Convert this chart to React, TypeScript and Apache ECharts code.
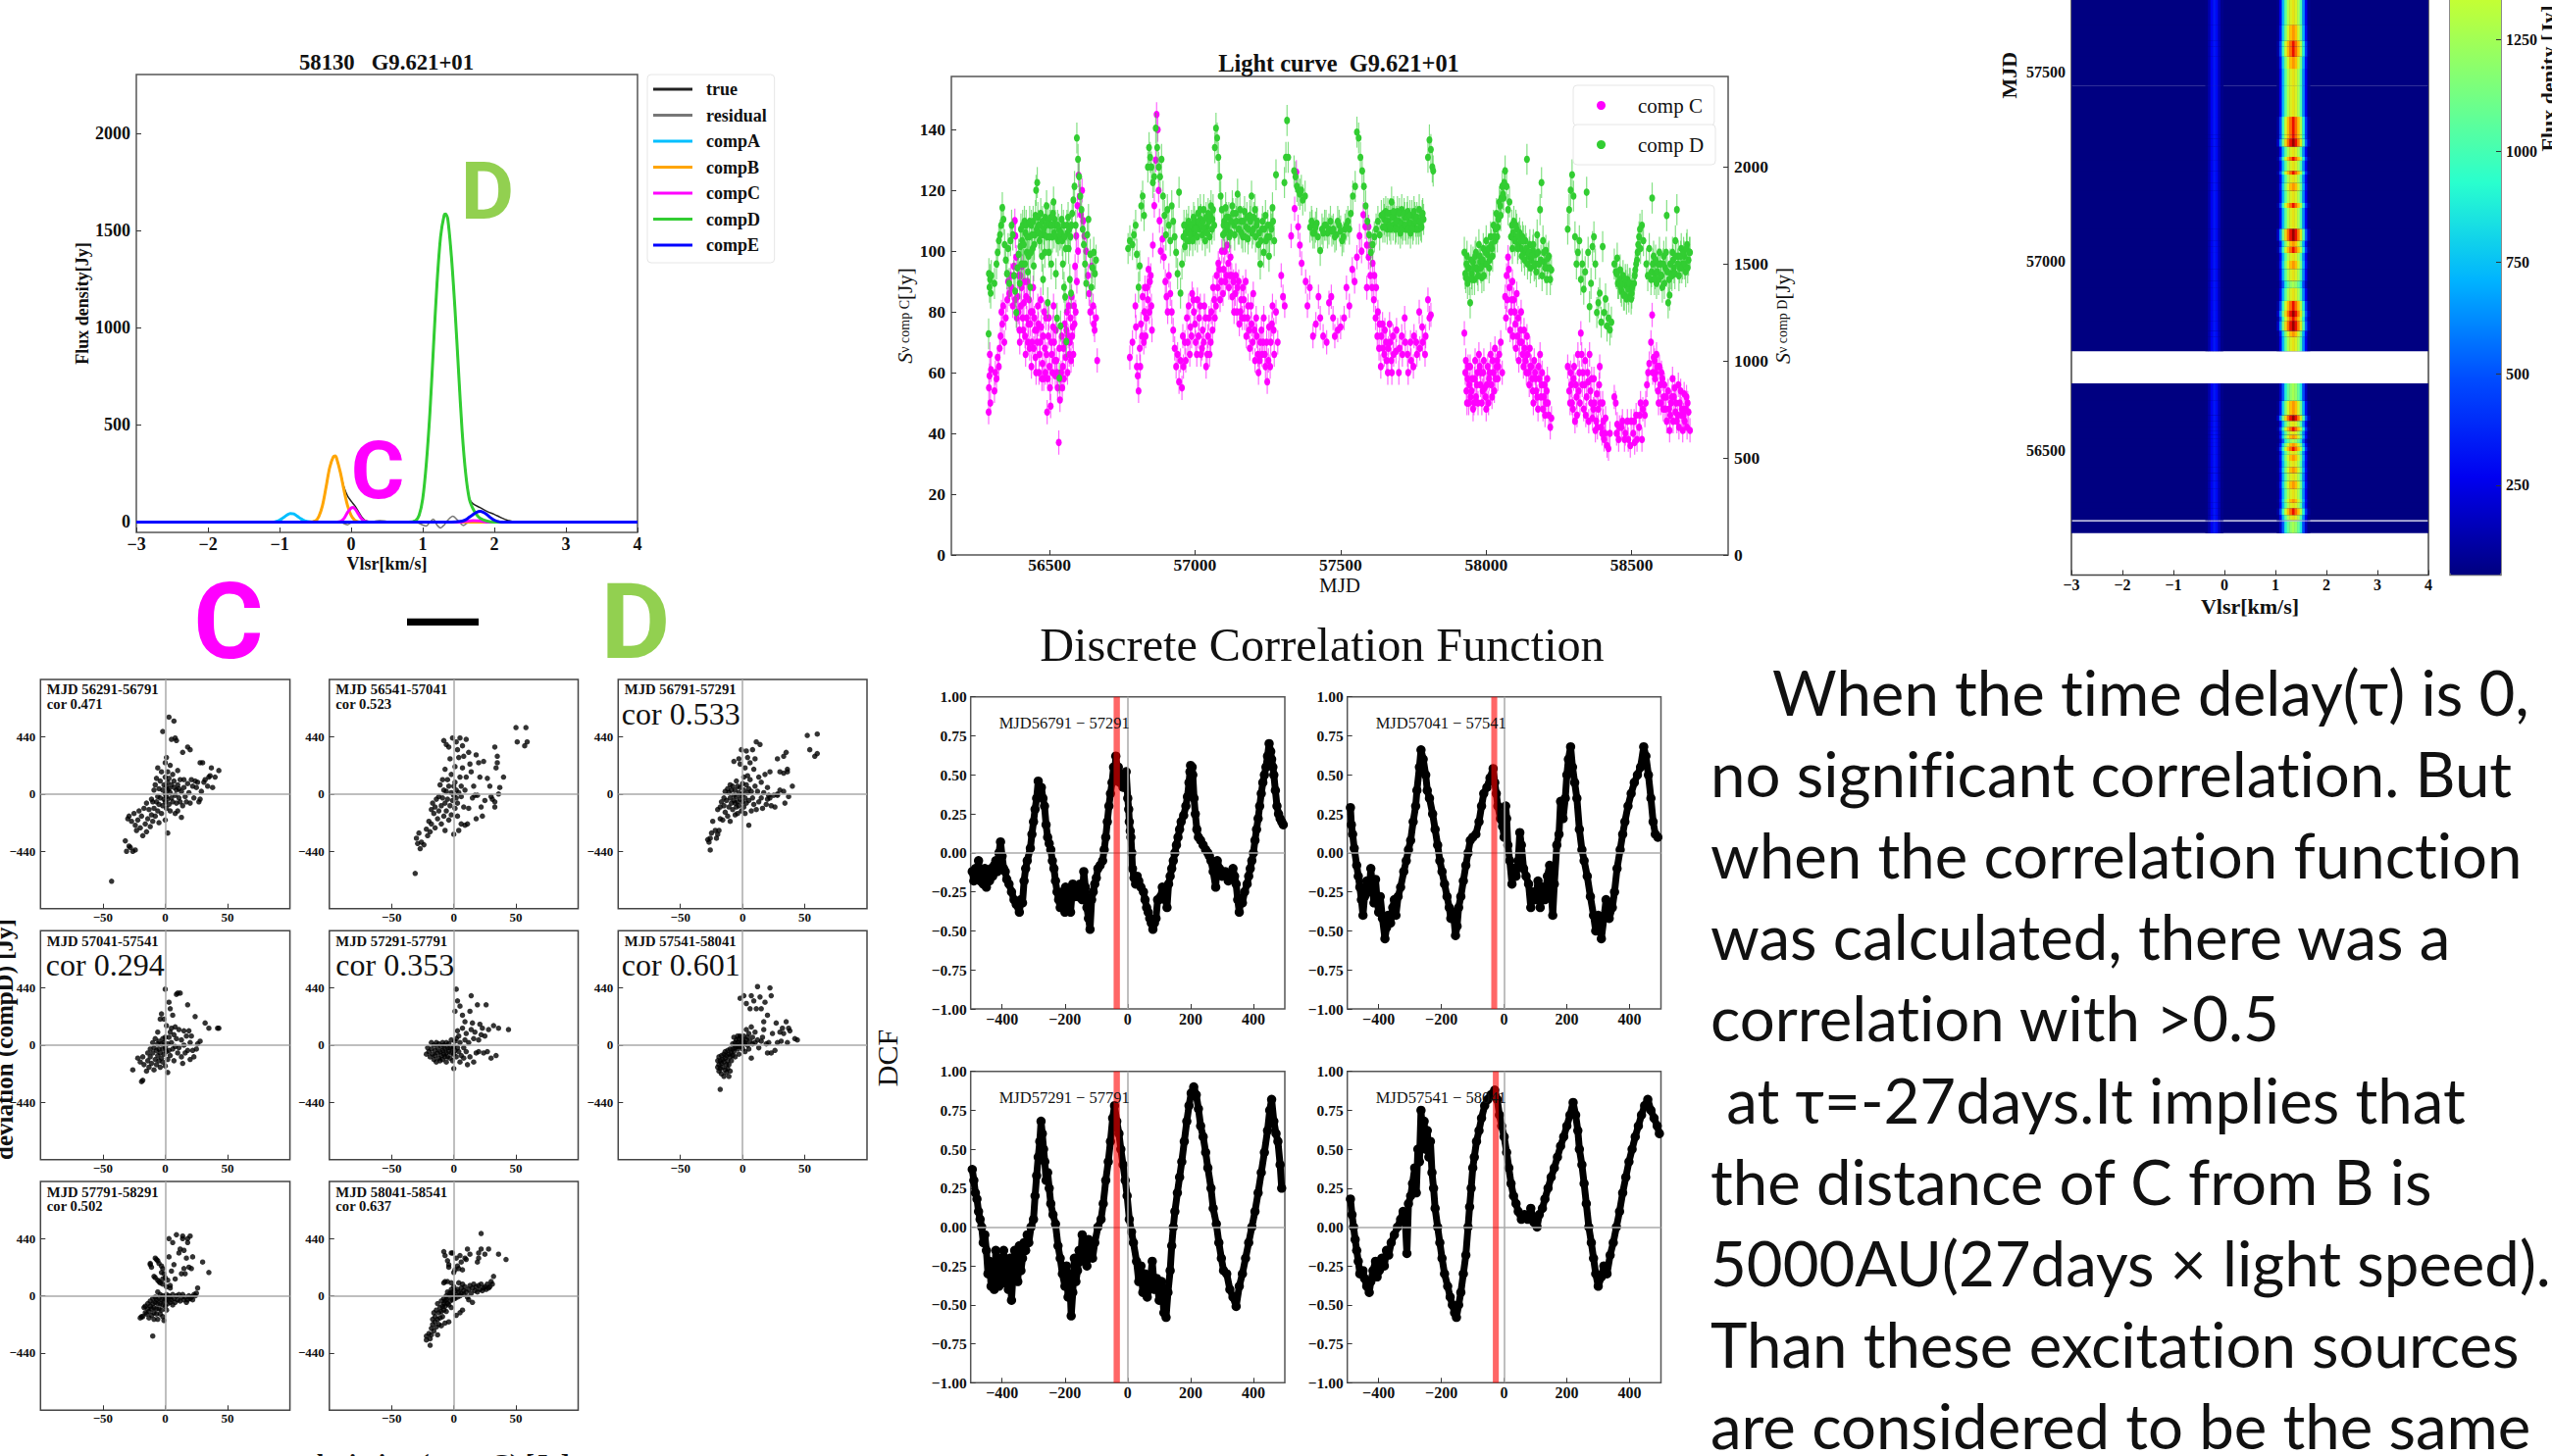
import React, { useEffect, useRef } from "react";
import * as echarts from "echarts";

const SERIF = "'Liberation Serif'";
const pairs = (f: number[]) => { const o: number[][] = []; for (let i = 0; i + 1 < f.length; i += 2) o.push([f[i], f[i + 1]]); return o; };

// ---------- spectrum ----------
const specTrue = [-3,0,-1.1,0,-1,10,-.9,35,-.85,44,-.8,42,-.7,17,-.6,3,-.5,6,-.45,30,-.4,85,-.35,180,-.3,280,-.25,335,-.22,340,-.2,325,-.15,255,-.1,180,-.05,135,0,108,.05,85,.1,55,.15,25,.2,8,.3,3,.4,6,.5,4,.7,0,.8,0,.9,8,.95,35,1,120,1.05,300,1.1,560,1.15,900,1.2,1230,1.25,1470,1.3,1580,1.32,1585,1.35,1560,1.4,1370,1.45,1100,1.5,780,1.55,470,1.6,250,1.65,125,1.7,95,1.8,75,1.9,55,2,40,2.1,22,2.2,8,2.3,0,4,0];
const specResidual = [-3,0,-.3,0,-.2,4,-.1,-8,-.05,-14,0,-4,.1,0,.9,0,1,-15,1.05,-20,1.1,0,1.15,15,1.2,-15,1.25,-30,1.3,-15,1.35,10,1.42,30,1.5,5,1.57,-18,1.62,-5,1.7,0,4,0];
const specA = [-3,0,-1.1,0,-1.05,3,-1,10,-.95,22,-.9,35,-.85,44,-.8,42,-.75,30,-.7,17,-.65,7,-.6,2,-.55,0,4,0];
const specB = [-3,0,-.6,0,-.5,6,-.45,30,-.4,85,-.35,180,-.3,280,-.25,335,-.22,340,-.2,325,-.15,255,-.1,165,-.05,85,0,35,.05,10,.1,2,.15,0,4,0];
const specC = [-3,0,-.2,0,-.15,3,-.1,18,-.05,50,0,73,.03,76,.07,60,.1,42,.15,15,.2,3,.25,0,1.5,0,1.6,5,1.7,8,1.8,6,1.9,0,4,0];
const specD = [-3,0,.8,0,.9,8,.95,35,1,120,1.05,300,1.1,560,1.15,900,1.2,1230,1.25,1470,1.3,1580,1.32,1585,1.35,1560,1.4,1370,1.45,1100,1.5,780,1.55,470,1.6,250,1.65,120,1.7,70,1.75,40,1.8,20,1.9,5,2,0,4,0];
const specE = [-3,0,1.4,0,1.55,5,1.6,12,1.65,25,1.7,38,1.75,50,1.8,55,1.85,50,1.9,38,1.95,22,2,10,2.05,3,2.1,0,4,0];
const specNames = ["true", "residual", "compA", "compB", "compC", "compD", "compE"];
const specColors = ["#222222", "#777777", "#00BFFF", "#FFA500", "#FF00FF", "#32CD32", "#0000FF"];

// ---------- light curve ----------
const curveC = [56291,47,56292,55,56294,59,56295,66,56297,50,56299,61,56311,54,56314,60,56318,58,56322,65,56326,62,56329,68,56332,72,56335,80,56338,76,56341,82,56345,70,56350,78,56355,84,56358,90,56362,86,56367,92,56370,88,56374,82,56378,95,56381,110,56383,105,56386,98,56390,85,56393,80,56397,74,56400,92,56404,88,56408,78,56412,83,56416,72,56420,85,56424,90,56428,76,56432,68,56436,80,56440,70,56444,88,56448,78,56452,65,56456,74,56460,82,56464,60,56468,70,56472,75,56476,63,56480,58,56484,68,56488,78,56492,47,56496,72,56500,62,56504,49,56508,66,56512,75,56516,70,56520,59,56524,64,56528,55,56532,37,56536,51,56540,60,56544,55,56548,68,56552,76,56556,65,56560,80,56564,72,56568,66,56572,78,56576,85,56580,75,56584,82,56588,95,56592,105,56596,115,56600,125,56604,118,56608,112,56612,120,56616,110,56620,105,56626,100,56632,92,56636,86,56640,80,56645,95,56650,82,56652,76,56655,74,56660,78,56664,64,
56776,65,56785,70,56795,82,56797,75,56800,62,56803,59,56806,54,56810,68,56814,76,56820,85,56826,80,56830,72,56835,88,56840,94,56845,90,56850,82,56855,102,56860,115,56865,130,56868,145,56872,140,56875,120,56878,110,56882,100,56888,104,56893,98,56898,90,56902,85,56906,80,56910,92,56915,86,56920,80,56925,74,56930,68,56935,62,56940,66,56945,57,56950,64,56955,55,56960,62,56965,70,56972,78,56978,82,56984,75,56990,86,56996,80,57002,70,57008,84,57014,78,57020,66,57026,74,57032,82,57038,62,57044,72,57050,66,57056,80,57062,88,57068,78,57074,92,57080,96,57086,84,57092,100,57098,94,57104,90,57110,102,57116,88,57122,98,57128,85,57134,80,57140,92,57146,88,57152,76,57158,84,57164,88,57170,78,57176,72,57182,82,57188,68,57194,76,57200,86,57206,64,57212,72,57218,60,57224,70,57230,66,57236,78,57242,62,57248,57,57254,75,57260,70,57266,82,57272,66,57278,80,57284,70,57296,92,57302,85,57308,82,57330,105,57342,114,57348,126,57354,108,57360,102,57366,96,57380,90,57386,82,57394,88,57405,72,57415,76,57424,85,57430,78,57440,72,57452,70,57460,83,57468,85,57474,78,57480,72,57490,74,57500,75,57512,78,57520,88,57530,82,57540,94,57548,90,57556,98,57565,105,57572,100,57578,112,57585,108,57590,102,57596,98,57602,92,57608,88,57614,84,57620,78,57626,72,57632,68,57638,62,57644,76,57650,66,57656,70,57662,60,57668,76,57674,64,57680,72,57690,67,57700,60,57710,72,57720,78,57730,66,57740,70,57750,62,57760,70,57770,80,57780,75,57790,66,57800,84,57805,78,57810,79,
57925,73,57928,60,57932,54,57936,58,57940,50,57945,62,57950,54,57955,48,57960,58,57965,52,57970,60,57975,66,57980,56,57985,50,57990,60,57995,55,58000,48,58005,62,58010,58,58015,66,58020,52,58025,60,58030,68,58035,62,58040,58,58045,66,58050,70,58055,60,58065,85,58070,92,58075,98,58080,88,58085,80,58090,90,58095,84,58100,76,58105,86,58110,78,58115,70,58120,80,58125,66,58130,74,58135,64,58140,72,58145,60,58150,68,58155,62,58160,54,58165,64,58170,58,58175,52,58180,62,58185,66,58190,56,58195,48,58200,56,58205,50,58210,58,58215,46,58220,42,58224,45,58280,62,58285,54,58290,60,58295,50,58300,58,58305,44,58310,52,58315,66,58320,60,58325,73,58330,56,58335,48,58340,64,58345,52,58350,57,58355,66,58360,50,58365,45,58370,58,58375,41,58380,53,58385,48,58390,62,58395,42,58400,50,58405,38,58410,45,58415,36,58420,35,58425,40,58440,52,58445,50,58450,43,58455,38,58465,42,58475,38,58485,44,58495,36,58505,40,58510,37,58515,46,58525,42,58530,50,58535,38,58545,46,58552,56,58560,63,58566,70,58570,79,58575,65,58580,58,58585,66,58590,54,58595,62,58600,50,58605,58,58610,52,58615,48,58620,44,58625,54,58630,41,58635,50,58640,58,58645,52,58650,47,58655,44,58660,56,58665,50,58670,46,58675,41,58680,53,58685,48,58690,42,58695,47,58700,41];
const curveCExtra = [56382,84,56388,78,56394,92,56398,70,56402,82,56406,95,56410,74,56414,90,56418,66,56422,78,56426,70,56430,84,56434,76,56438,62,56442,80,56446,68,56450,74,56454,60,56458,70,56462,76,56466,66,56470,84,56474,58,56478,72,56482,80,56486,60,56490,66,56494,58,56498,78,56502,55,56506,70,56510,60,56514,82,56518,64,56522,74,56526,60,56534,68,56538,58,56542,72,56546,62,56550,58,56554,70,56558,74,56562,60,56566,82,56570,70,56574,64,56578,72,56582,66,56586,76,56590,80,56594,90,56598,100,
56812,62,56818,72,56824,70,56828,88,56833,78,56838,84,56843,80,56848,92,56852,74,
56958,72,56968,64,56975,70,56982,66,56988,72,56994,84,57000,76,57006,66,57012,72,57018,82,57024,68,57030,70,57036,78,57042,66,57048,78,57054,70,57060,74,57066,84,57072,82,57078,88,57084,94,57090,90,57096,86,57102,100,57108,92,57114,96,57120,92,57126,92,57132,90,57138,86,57144,80,57150,90,57156,80,57162,78,57168,84,57174,90,57180,78,57186,74,57192,82,57198,70,57204,74,57210,78,57216,66,57222,64,57228,74,57234,70,57240,66,57246,70,57252,64,57258,62,57264,76,57270,74,
57590,88,57596,108,57604,102,57610,96,57616,92,57622,88,57628,80,57634,76,57640,72,57646,68,57652,74,57658,64,57664,68,57670,70,57676,60,57682,66,57692,74,57702,68,57712,66,57722,70,57732,60,57742,64,57752,72,57762,66,57772,68,57782,70,57792,72,
57930,64,57934,50,57938,62,57942,56,57946,52,57952,58,57958,50,57962,64,57968,56,57972,50,57978,62,57982,60,57988,54,57992,64,57998,52,58002,56,58008,50,58012,60,58018,56,58022,64,58028,54,58032,58,58038,64,58042,62,
58068,78,58072,84,58078,94,58082,74,58088,84,58092,72,58098,80,58102,68,58108,72,58112,64,58118,74,58122,70,58128,62,58132,68,58138,60,58142,66,58148,56,58152,62,58158,58,58162,50,58168,60,58172,54,58178,48,58182,58,58188,52,58192,60,58198,52,58202,46,58208,54,58212,50,
58288,50,58292,56,58298,48,58302,62,58308,56,58312,46,58318,54,58322,50,58328,66,58332,60,58338,56,58342,46,58348,60,58352,44,58358,54,58362,58,58368,48,58372,50,58378,44,58382,42,58388,56,58392,50,58398,40,58402,44,58408,40,
58448,40,58458,42,58468,44,58478,40,58488,38,58498,44,58508,44,58518,38,58528,46,58538,48,58548,50,58556,60,58572,60,58578,64,58582,60,58588,62,58592,50,58598,56,58602,60,58608,48,58612,56,58618,52,58628,48,58632,46,58638,52,58642,44,58648,55,58652,50,58658,46,58662,42,58668,54,58672,48,58678,46,58682,44,58688,52,58692,50];
const curveD = [56291,1140,56292,1450,56294,1380,56296,1420,56298,1350,56300,1440,56311,1400,56318,1500,56322,1560,56326,1620,56330,1650,56334,1700,56338,1790,56342,1730,56346,1600,56350,1520,56354,1450,56358,1580,56362,1400,56366,1620,56370,1700,56374,1650,56378,1440,56382,1360,56386,1250,56390,1480,56394,1550,56398,1400,56402,1680,56406,1620,56410,1500,56414,1720,56418,1660,56422,1560,56426,1460,56430,1640,56434,1380,56438,1700,56442,1580,56446,1490,56450,1650,56454,1880,56458,1920,56462,1700,56466,1620,56470,1760,56474,1540,56478,1420,56482,1650,56486,1740,56490,1800,56494,1300,56498,1560,56502,1700,56506,1500,56510,1640,56514,1820,56518,1730,56522,1450,56526,1220,56530,1620,56534,911,56538,1180,56542,1730,56546,1500,56550,1380,56554,1330,56558,1100,56562,1660,56566,1580,56570,1420,56574,1350,56578,1760,56582,1830,56586,1900,56590,1700,56594,2150,56598,2040,56602,1950,56606,1850,56610,1780,56614,1680,56618,1600,56622,1500,56626,1400,56630,1650,56634,1730,56640,1550,56644,1380,56648,1480,56652,1560,56656,1450,56660,1520,
56770,1580,56776,1620,56785,1600,56790,1650,56796,1700,56800,1550,56806,1380,56810,1490,56815,1800,56820,1850,56825,1750,56838,2000,56842,2100,56846,2050,56850,2000,56855,1920,56860,1950,56865,2200,56870,2100,56875,2000,56880,1950,56885,2040,56890,1850,56895,1750,56900,1650,56905,1780,56910,1700,56915,1620,56920,1800,56925,1720,56930,1640,56935,1560,56940,1450,56945,1870,56950,1350,56955,1500,56960,1640,56965,1590,56970,1700,56975,1680,56980,1620,56990,1680,56995,1740,57000,1650,57005,1700,57010,1760,57015,1680,57020,1730,57025,1650,57030,1780,57035,1620,57040,1690,57045,1760,57050,1640,57055,1800,57060,1730,57068,2100,57072,2200,57076,2150,57080,2050,57084,1950,57088,1850,57092,1780,57096,1650,57100,1720,57105,1790,57110,1680,57116,1740,57122,1660,57128,1800,57134,1700,57140,1760,57146,1860,57152,1680,57158,1720,57164,1640,57170,1770,57176,1690,57182,1630,57188,1750,57194,1850,57200,1680,57206,1780,57212,1700,57218,1600,57224,1500,57230,1680,57236,1560,57242,1750,57248,1640,57254,1540,57260,1700,57266,1790,57272,1620,57278,1960,57307,1920,57312,2050,57316,2240,57320,2050,57340,1980,57345,1950,57350,1900,57355,1880,57360,1860,57365,1880,57370,1830,57378,1850,57395,1690,57402,1700,57410,1660,57418,1710,57430,1570,57436,1680,57445,1700,57455,1660,57465,1720,57475,1680,57485,1650,57495,1700,57505,1620,57515,1680,57525,1720,57535,1760,57542,1850,57550,1900,57556,2180,57562,2150,57568,2050,57574,1980,57580,1900,57586,1800,57592,1720,57598,1650,57604,1560,57610,1600,57616,1640,57622,1680,57628,1720,57634,1650,57640,1750,57645,1690,57650,1730,57655,1770,57660,1680,57665,1720,57670,1760,57675,1820,57680,1700,57685,1740,57690,1690,57695,1770,57700,1720,57705,1660,57710,1780,57715,1700,57720,1740,57725,1680,57730,1770,57735,1710,57740,1660,57745,1750,57750,1700,57755,1740,57760,1680,57765,1720,57770,1780,57775,1700,57780,1750,57785,1730,57800,2050,57805,2140,57810,2090,57815,2000,57818,1980,
57925,1560,57928,1450,57932,1500,57936,1400,57940,1480,57945,1300,57950,1450,57955,1510,57960,1420,57965,1560,57970,1470,57975,1600,57980,1510,57985,1430,57990,1580,57995,1500,58000,1620,58005,1550,58010,1480,58015,1640,58020,1580,58025,1700,58030,1620,58035,1760,58040,1690,58045,1820,58050,1750,58055,1900,58060,1840,58065,1980,58070,1900,58075,1780,58080,1820,58085,1640,58090,1580,58095,1720,58100,1640,58105,1680,58110,1600,58115,1660,58120,1580,58125,1640,58130,1560,58135,1620,58140,2040,58145,1540,58150,1600,58155,1520,58160,1570,58165,1490,58170,1550,58175,1650,58180,1500,58185,1780,58190,1920,58195,1620,58200,1510,58205,1570,58210,1480,58215,1540,58220,1420,58224,1470,58280,1680,58285,1780,58290,1880,58295,1960,58300,1850,58305,1640,58310,1500,58315,1560,58320,1620,58325,1420,58330,1500,58335,1370,58340,1460,58345,1870,58350,1560,58355,1280,58360,1400,58365,1590,58370,1640,58375,1500,58380,1250,58385,1300,58390,1350,58395,1200,58400,1590,58405,1250,58410,1320,58415,1180,58420,1220,58425,1160,58430,1200,58440,1500,58445,1460,58450,1530,58455,1400,58460,1470,58465,1360,58470,1440,58475,1340,58480,1390,58485,1420,58490,1330,58495,1400,58500,1350,58510,1440,58515,1500,58520,1560,58525,1640,58530,1580,58535,1700,58540,1620,58550,1500,58555,1440,58560,1580,58566,1420,58570,1840,58575,1540,58580,1450,58585,1400,58590,1500,58595,1560,58600,1440,58605,1380,58610,1540,58615,1480,58620,1750,58625,1300,58630,1340,58635,1450,58640,1560,58645,1480,58650,1620,58655,1780,58660,1540,58665,1480,58670,1580,58675,1500,58680,1540,58685,1460,58690,1600,58695,1520,58700,1560];
const curveDExtra = [56400,1590,56404,1500,56408,1700,56412,1600,56416,1500,56420,1700,56424,1640,56428,1540,56432,1720,56436,1560,56440,1650,56444,1720,56448,1600,56452,1750,56456,1680,56460,1740,56464,1660,56468,1700,56472,1650,56476,1720,56480,1680,56484,1560,56488,1700,56492,1640,56496,1720,56500,1640,56504,1740,56508,1700,56512,1760,56516,1660,56520,1700,56524,1640,56528,1700,56532,1680,56536,1650,56540,1660,56544,1620,56548,1700,56552,1640,56556,1580,56560,1700,56564,1740,56568,1680,56572,1640,56576,1700,
56962,1700,56968,1660,56972,1620,56978,1720,56984,1650,56988,1700,56992,1620,56998,1720,57002,1680,57008,1640,57012,1720,57018,1780,57022,1700,57028,1720,57032,1680,57038,1740,57042,1660,57048,1720,57052,1750,57058,1680,57062,1780,57066,1700,
57098,1700,57102,1660,57108,1740,57112,1700,57118,1640,57124,1720,57130,1760,57136,1650,57142,1720,57148,1680,57154,1780,57160,1660,57166,1720,57172,1640,57178,1740,57184,1680,57190,1720,57196,1660,57202,1740,57208,1640,57214,1720,57220,1660,57226,1620,57232,1720,57238,1680,57244,1620,57250,1700,57256,1640,57262,1680,57268,1720,
57400,1720,57405,1660,57414,1690,57422,1640,57440,1660,57450,1700,57460,1680,57470,1670,57480,1640,57490,1720,57500,1670,57510,1640,57520,1700,57530,1680,
57648,1760,57652,1690,57658,1720,57662,1760,57668,1700,57672,1680,57678,1740,57682,1770,57688,1680,57692,1720,57698,1680,57702,1760,57708,1710,57712,1680,57718,1760,57722,1700,57728,1740,57732,1680,57738,1750,57742,1710,57748,1680,57752,1770,57758,1720,57762,1740,57768,1680,57772,1720,57778,1690,57782,1760,
57930,1430,57934,1540,57938,1480,57942,1420,57948,1520,57952,1420,57958,1480,57962,1540,57968,1480,57972,1440,57978,1540,57982,1480,57988,1520,57992,1440,57998,1560,58002,1500,58008,1580,58012,1520,58018,1600,58022,1540,58028,1640,58032,1680,58038,1640,58042,1730,58048,1800,58052,1840,58058,1860,58062,1920,
58088,1700,58092,1660,58098,1620,58102,1700,58108,1580,58112,1640,58118,1620,58122,1540,58128,1620,58132,1520,58138,1580,58142,1500,58148,1560,58152,1480,58158,1540,58162,1600,58168,1500,58172,1460,58178,1560,58182,1500,58188,1520,58192,1440,58198,1560,58202,1480,58208,1420,58212,1530,58218,1480,
58448,1450,58452,1400,58458,1420,58462,1380,58468,1400,58472,1340,58478,1420,58482,1320,58488,1370,58492,1400,58498,1320,58502,1380,58508,1400,58512,1470,58518,1520,58522,1600,58528,1680,
58568,1460,58572,1500,58578,1420,58582,1520,58588,1460,58592,1420,58598,1500,58602,1440,58608,1500,58612,1400,58618,1560,58622,1460,58628,1420,58632,1500,58638,1440,58642,1520,58648,1450,58652,1540,58658,1500,58662,1440,58668,1540,58672,1480,58678,1560,58682,1500,58688,1580,58692,1480,58698,1560];

// ---------- dynamic spectrum ----------
const heatMainV = [1.05,1.1,1.15,1.2,1.25,1.3,1.35,1.4,1.45,1.5,1.55,1.6,1.65];
const heatSideV = [-.35,-.3,-.25,-.2,-.15,-.1,-.05];
const heatSide = [60,130,270,340,290,150,70];
const heatLevels = [
  [60,180,520,880,1080,1200,1260,1200,1080,860,480,170,60],
  [70,260,720,1050,1280,1420,1480,1420,1280,1020,620,260,80],
  [80,320,800,1150,1400,1600,1700,1600,1400,1120,700,300,90],
  [110,480,980,1350,1620,1800,2000,1800,1600,1300,880,420,120],
  [180,640,1150,1500,1800,2000,2200,2000,1760,1450,1020,520,170],
];
const heatRows = [[56284,56313,0],[56318,56332,1],[56332,56350,3],[56350,56364,1],[56364,56374,2],[56374,56401,1],[56401,56422,2],[56422,56443,1],[56443,56459,2],[56459,56475,1],[56475,56491,2],[56491,56501,1],[56501,56512,3],[56512,56522,2],[56522,56533,0],[56533,56544,2],[56544,56554,1],[56554,56565,3],[56565,56581,1],[56581,56596,4],[56596,56634,2],[56634,56678,0],
[56765,56803,1],[56803,56819,2],[56819,56845,4],[56845,56856,3],[56856,56872,4],[56872,56898,3],[56898,56932,1],[56932,56951,0],[56951,56983,1],[56983,57004,2],[57004,57025,1],[57025,57041,3],[57041,57057,2],[57057,57089,4],[57089,57144,1],[57144,57157,3],[57157,57189,1],[57189,57210,2],[57210,57232,1],[57232,57242,3],[57242,57269,1],[57269,57279,3],[57279,57306,1],[57306,57327,4],[57327,57337,3],[57337,57385,3],[57385,57464,1],[57466,57512,1],[57512,57544,2],[57544,57570,3],[57570,57586,3],[57586,57628,2],[57628,57960,1]];
const heatBackground = 50;

// ---------- deviation scatter ----------
const scatterTitles = ["MJD 56291-56791","MJD 56541-57041","MJD 56791-57291","MJD 57041-57541","MJD 57291-57791","MJD 57541-58041","MJD 57791-58291","MJD 58041-58541"];
const scatterCors = ["cor 0.471","cor 0.523","cor 0.533","cor 0.294","cor 0.353","cor 0.601","cor 0.502","cor 0.637"];
const scatter1 = [-43,-670,-32,-360,-31,-440,-29,-400,-26,-440,-24,-430,-28,-410,-30,-190,-29,-170,-27,-210,-25,-150,-24,-240,-23,-280,-22,-200,-21,-130,-20,-260,-19,-170,-18,-320,-17,-110,-16,-230,-15,-70,-15,-290,-14,-190,-13,-120,-12,-250,-11,-40,-11,-160,-10,-60,-10,-210,-9,30,-9,-110,-8,-170,-8,70,-7,-60,-7,120,-6,-20,-6,-130,-6,200,-5,40,-5,-80,-5,-220,-4,100,-4,-30,-3,-150,-3,170,-2,30,-2,-90,-2,480,-1,70,-1,-40,0,240,0,130,0,0,0,-60,0,-200,1,280,1,60,1,-20,1,-110,2,170,2,90,2,30,2,-40,2,-300,3,590,3,120,3,40,3,-80,4,220,4,10,4,-130,5,420,5,70,5,-30,6,150,6,-60,7,560,7,50,7,100,8,430,8,-10,8,-150,9,410,9,30,9,-70,10,180,10,70,10,-130,11,-30,11,40,12,-60,12,110,13,20,13,-180,14,320,14,-90,15,50,15,110,16,-20,17,-60,18,360,18,80,19,10,20,340,20,-70,21,110,22,60,23,-30,24,100,25,50,26,90,27,-60,28,-40,28,240,29,20,30,240,31,90,32,110,34,60,35,130,36,140,37,200,38,50,40,130,43,180];
const scatter2 = [-31,-610,-30,-340,-29,-380,-28,-300,-27,-420,-26,-370,-24,-390,-22,-270,-21,-320,-20,-210,-19,-290,-18,-120,-18,-230,-17,-70,-16,-150,-15,-260,-15,-100,-14,-40,-13,-190,-12,-20,-12,-130,-11,70,-10,-90,-10,-230,-9,110,-9,-30,-8,-170,-8,30,-8,410,-7,-70,-7,190,-7,-280,-6,380,-6,20,-6,-130,-5,110,-5,-40,-4,360,-4,-200,-4,60,-3,-90,-3,270,-2,150,-2,10,-2,-160,-1,-50,-1,430,0,60,0,-310,0,-10,1,90,1,210,1,-110,2,400,2,-30,2,30,3,340,3,-70,3,-170,4,280,4,10,4,-280,5,130,5,430,6,60,6,-20,6,-230,7,200,7,370,8,-100,8,290,9,-240,9,30,10,420,10,130,11,-230,12,320,12,-110,13,230,14,170,15,-30,16,60,17,-10,18,300,18,-190,19,-10,20,240,21,130,22,-100,23,-170,24,250,25,-50,27,120,29,60,30,-20,31,-40,33,360,33,-60,33,-100,34,200,35,290,35,240,36,0,37,50,40,130,51,400,50,510,57,370,58,510,59,400];
const scatter3 = [-26,-430,-28,-350,-27,-370,-26,-340,-25,-300,-24,-210,-22,-280,-21,-340,-20,-310,-20,-120,-19,-280,-18,-100,-18,-190,-17,-60,-16,-200,-15,-30,-15,-90,-14,-140,-14,20,-13,-50,-12,-170,-12,40,-11,-100,-11,10,-10,70,-10,-30,-10,-210,-9,-70,-9,30,-8,-120,-8,60,-7,-10,-7,-50,-7,250,-6,30,-6,-160,-6,-70,-5,100,-5,-20,-5,-100,-4,60,-4,-60,-4,-150,-3,10,-3,270,-3,-90,-2,-40,-2,230,-2,50,-1,-10,-1,340,-1,-130,0,80,0,-60,0,0,1,-100,1,130,1,30,2,-30,2,-150,2,200,3,330,3,70,3,-70,4,10,4,140,4,280,5,-50,5,-240,5,40,6,240,6,110,7,-130,7,20,8,340,8,-30,9,190,9,-80,10,60,10,270,11,-120,11,400,12,20,13,130,13,-60,14,380,15,-30,15,90,16,-110,17,10,18,150,19,-80,20,-40,20,50,21,-10,22,170,22,-30,23,-90,25,-10,26,-100,28,-10,28,0,28,270,30,170,33,290,33,160,35,320,36,190,37,-20,34,-70,40,60,52,450,60,460,54,340,58,290,60,310,30,30,33,20,36,170];
const scatter4 = [-26,-190,-18,-270,-19,-280,-22,-100,-20,-130,-18,-90,-17,-150,-15,-200,-14,-60,-14,-120,-13,-170,-12,-30,-12,-90,-11,-140,-10,20,-10,-60,-9,-190,-9,-20,-8,-110,-8,50,-7,-40,-7,-150,-6,-80,-6,10,-6,100,-5,-30,-5,-120,-5,30,-4,-60,-4,200,-4,-170,-3,10,-3,-100,-3,240,-2,-30,-2,-130,-2,50,-1,20,-1,-70,-1,200,0,-20,0,-160,0,60,0,430,1,-50,1,150,2,10,2,-110,2,-210,3,330,3,60,3,-40,4,280,4,100,4,-80,5,130,5,20,6,-30,6,230,7,80,7,-120,8,-10,8,140,9,390,9,50,10,-60,10,400,11,120,11,-20,12,400,13,40,13,-90,14,-140,15,110,15,0,16,-60,17,70,18,310,18,-40,19,110,20,-110,20,20,21,70,22,-40,23,-90,24,220,25,-30,26,10,28,30,32,170,35,130,42,130,43,130];
const scatter5 = [-22,-70,-21,-20,-20,-50,-19,-90,-18,-30,-18,20,-17,-70,-16,-110,-16,0,-15,-40,-15,-80,-14,-130,-14,20,-13,-60,-13,-20,-12,-100,-12,10,-11,-50,-11,-120,-10,-10,-10,-80,-9,20,-9,-40,-9,-110,-8,-70,-8,0,-7,-30,-7,-90,-6,20,-6,-60,-6,-130,-5,-20,-5,-90,-4,10,-4,-50,-3,-100,-3,-20,-2,40,-2,-60,-1,-30,-1,-120,0,-10,0,-180,0,-70,1,-40,1,30,1,260,2,-90,2,50,2,430,3,-20,3,110,3,340,4,-50,4,70,5,300,5,-130,5,20,6,-80,7,230,7,130,8,-20,8,-100,9,180,9,40,10,90,10,-50,11,-150,12,20,13,260,13,-90,14,120,14,380,15,170,16,-130,16,50,17,100,18,-60,19,310,20,40,20,-50,21,160,22,80,23,130,24,-60,25,70,26,310,27,-50,28,120,30,-100,32,150,34,-80,36,130,44,120];
const scatter6 = [-20,-120,-20,-170,-19,-90,-19,-150,-19,-200,-18,-120,-18,-180,-18,-340,-17,-80,-17,-140,-17,-220,-16,-110,-16,-170,-15,-70,-15,-130,-15,-240,-14,-100,-14,-190,-14,-50,-13,-150,-13,-210,-13,-80,-12,-40,-12,-120,-12,-180,-11,-70,-11,-240,-11,-150,-10,-90,-10,-30,-10,-200,-9,-60,-9,-120,-8,10,-8,-30,-8,-80,-7,-50,-7,60,-6,-20,-6,-90,-6,20,-5,40,-5,-10,-4,70,-4,-30,-4,20,-3,50,-3,-70,-3,-10,-2,10,-2,70,-2,360,-1,30,-1,-10,-1,60,0,40,0,-30,1,380,1,10,1,70,2,20,2,-50,3,40,3,120,3,320,4,0,4,60,5,90,5,-30,6,30,6,280,7,380,7,-100,7,140,8,10,8,60,9,340,10,20,10,100,11,280,12,40,12,450,13,-20,14,370,15,280,15,30,16,60,17,180,17,120,18,330,19,10,20,-60,20,230,21,20,22,440,23,380,23,-60,24,90,26,-40,27,170,28,20,30,100,31,30,32,130,33,90,35,180,36,20,37,130,38,110,42,50,44,40];
const scatter7 = [-19,-160,-20,-170,-18,-160,-17,-90,-16,-130,-16,-80,-15,-140,-14,-100,-14,-60,-13,-170,-13,-120,-12,-80,-12,-40,-11,-150,-11,-100,-10,-310,-10,-60,-10,-20,-9,-130,-9,-90,-9,-180,-8,-50,-8,-10,-7,-100,-7,-140,-7,-30,-6,30,-6,-180,-6,-60,-5,-100,-5,-20,-4,-140,-4,10,-4,-60,-3,-110,-3,-30,-2,0,-2,-160,-2,-70,-1,-40,-1,-190,0,-10,0,-80,1,-30,1,10,1,-110,2,-60,2,-20,3,0,4,-50,4,-10,5,-30,6,10,6,-70,7,-20,8,-50,9,0,10,-30,11,10,12,-40,13,-10,14,10,15,-30,16,-10,17,-50,18,-30,19,0,20,-20,21,-10,22,-30,23,10,24,0,25,20,26,60,-12,240,-12,250,-11,220,-8,290,-7,280,-6,270,-5,250,-3,230,-2,210,-9,150,-8,140,-6,120,-5,110,-4,100,-3,180,-2,130,-2,90,-1,170,0,140,1,70,2,120,3,440,3,300,4,80,4,60,5,190,6,410,7,240,8,130,9,470,11,330,12,360,13,170,14,460,14,440,15,350,15,210,16,170,17,290,18,410,18,440,19,220,20,460,21,210,22,300,30,260,35,180];
const scatter8 = [-22,-340,-22,-310,-20,-290,-19,-380,-19,-330,-18,-250,-18,-300,-17,-180,-17,-220,-16,-270,-16,-130,-15,-200,-15,-160,-14,-240,-14,-110,-13,-180,-13,-300,-13,-60,-12,-130,-12,-220,-11,-90,-11,-170,-10,-40,-10,-120,-10,-230,-9,-80,-9,-160,-8,-20,-8,-60,-8,-110,-7,-40,-7,-80,-7,-210,-6,0,-6,-30,-6,-120,-5,-60,-5,30,-4,-10,-4,-70,-4,-200,-3,20,-3,-40,-2,10,-2,-90,-2,50,-1,-30,-1,30,0,0,0,-20,0,70,1,40,1,-20,2,10,2,-150,3,50,3,-10,4,30,4,100,5,0,5,-130,6,60,6,20,7,90,7,-110,8,40,8,10,9,70,10,30,11,-10,12,50,12,-30,13,80,14,20,15,60,15,-50,16,90,17,40,18,70,19,30,20,80,21,50,22,90,23,40,24,60,25,70,26,50,27,90,28,60,29,70,30,110,31,90,32,150,-8,100,-7,110,-5,110,-2,100,-8,340,-7,310,-5,270,-4,240,-4,220,-2,330,-1,330,0,180,1,200,2,290,3,230,4,210,5,310,6,260,7,200,9,290,10,280,11,360,13,320,19,260,20,330,20,290,22,360,22,480,25,320,28,360,36,320,42,280];
const scatterData = [scatter1, scatter2, scatter3, scatter4, scatter5, scatter6, scatter7, scatter8];

// ---------- discrete correlation function ----------
const dcfTitles = ["MJD56791 − 57291", "MJD57041 − 57541", "MJD57291 − 57791", "MJD57541 − 58041"];
const dcfBands = [[-45, -25], [-41, -22], [-45, -25], [-36, -17]];
const dcf1 = [-495,-.12,-490,-.18,-485,-.1,-480,-.15,-475,-.05,-470,-.18,-465,-.12,-460,-.2,-455,-.1,-450,-.22,-445,-.15,-440,-.18,-435,-.1,-430,-.15,-425,-.08,-420,-.05,-415,-.12,-410,0,-405,.07,-400,-.02,-395,-.1,-390,-.12,-385,-.17,-378,-.2,-370,-.25,-362,-.3,-355,-.33,-345,-.38,-340,-.3,-335,-.32,-330,-.18,-325,-.1,-320,-.05,-310,.03,-305,.12,-300,.2,-295,.28,-290,.35,-285,.46,-280,.4,-275,.42,-270,.35,-265,.3,-260,.18,-255,.1,-250,.06,-245,.02,-240,-.05,-235,-.1,-230,-.18,-225,-.25,-220,-.3,-215,-.35,-208,-.25,-200,-.38,-198,-.22,-190,-.25,-182,-.38,-175,-.2,-168,-.28,-160,-.28,-152,-.2,-145,-.3,-140,-.12,-135,-.22,-130,-.35,-125,-.42,-120,-.49,-115,-.3,-110,-.25,-105,-.2,-100,-.16,-95,-.1,-88,-.08,-80,-.05,-75,.02,-70,.1,-65,.2,-60,.3,-55,.38,-50,.45,-45,.55,-42,.48,-38,.62,-34,.55,-30,.55,-25,.45,-20,.5,-15,.42,-10,.42,-5,.52,0,.35,3,.28,5,.2,8,.14,10,.1,13,0,15,-.1,20,-.16,25,-.2,30,-.15,35,-.18,42,-.22,50,-.25,55,-.3,60,-.35,65,-.38,70,-.42,75,-.45,80,-.49,85,-.45,90,-.42,95,-.3,100,-.3,105,-.28,110,-.22,115,-.25,120,-.3,125,-.35,130,-.2,135,-.15,140,-.1,145,-.05,150,0,155,.05,160,.1,165,.15,170,.2,178,.24,185,.3,190,.36,195,.45,198,.52,200,.56,205,.55,207,.5,211,.35,215,.25,220,.15,225,.1,232,.08,240,.05,248,.02,255,0,260,-.02,265,-.05,272,-.12,280,-.22,285,-.05,292,-.1,300,-.15,310,-.12,320,-.18,328,-.14,335,-.1,340,-.15,345,-.2,350,-.3,355,-.38,360,-.3,365,-.32,372,-.25,380,-.2,385,-.15,390,-.1,395,-.05,400,0,405,.08,410,.15,415,.22,420,.3,425,.38,430,.45,435,.5,440,.55,445,.62,450,.7,455,.65,458,.6,462,.55,465,.5,470,.4,475,.3,480,.25,485,.22,490,.2,495,.18];
const dcf2 = [-490,.29,-487,.18,-483,.12,-478,.03,-470,-.08,-465,-.15,-460,-.22,-455,-.3,-450,-.4,-445,-.28,-438,-.18,-430,-.25,-425,-.1,-420,-.22,-415,-.32,-410,-.17,-405,-.3,-400,-.38,-395,-.28,-388,-.42,-380,-.55,-375,-.48,-370,-.4,-362,-.45,-355,-.35,-350,-.3,-345,-.4,-338,-.28,-330,-.22,-320,-.12,-312,-.05,-305,.02,-298,.08,-290,.2,-282,.3,-278,.4,-270,.55,-265,.66,-258,.6,-250,.5,-245,.4,-238,.35,-228,.25,-220,.15,-212,.05,-205,-.05,-198,-.12,-190,-.2,-182,-.28,-175,-.35,-170,-.42,-162,-.38,-155,-.53,-150,-.47,-145,-.35,-138,-.28,-130,-.18,-122,-.08,-115,0,-108,.08,-100,.1,-90,.12,-80,.2,-72,.3,-65,.38,-55,.42,-45,.48,-35,.54,-30,.45,-25,.38,-20,.3,-12,.22,-5,.17,0,.1,5,.3,8,.22,12,.05,18,-.05,25,-.2,30,-.1,38,-.15,45,-.05,50,.13,55,.05,62,-.1,70,-.15,78,-.2,85,-.35,92,-.25,100,-.3,108,-.18,115,-.35,122,-.22,130,-.3,138,-.15,145,-.08,155,-.4,160,-.2,168,.05,175,.12,180,.33,188,.22,195,.35,200,.5,205,.6,212,.68,218,.55,225,.45,232,.35,240,.15,248,.02,255,-.05,265,-.15,275,-.28,285,-.4,292,-.5,300,-.4,310,-.55,318,-.42,325,-.3,335,-.42,345,-.35,352,-.25,360,-.1,370,.02,378,.12,385,.2,395,.3,405,.38,415,.45,425,.5,435,.55,445,.68,452,.62,460,.5,468,.35,475,.2,482,.12,490,.1];
const dcf3 = [-495,.37,-490,.3,-485,.22,-480,.18,-475,.1,-470,.05,-465,0,-460,-.1,-455,-.05,-450,-.15,-445,-.3,-440,-.22,-435,-.38,-430,-.25,-425,-.4,-420,-.15,-415,-.3,-410,-.38,-405,-.2,-400,-.32,-395,-.15,-390,-.36,-385,-.25,-380,-.4,-375,-.2,-370,-.47,-365,-.3,-360,-.15,-355,-.25,-350,-.35,-345,-.12,-340,-.28,-335,-.2,-330,-.1,-325,-.15,-320,-.05,-315,-.1,-308,0,-300,.05,-295,.2,-290,.33,-285,.45,-280,.55,-276,.68,-272,.6,-268,.5,-264,.42,-260,.3,-255,.35,-250,.25,-245,.15,-238,.08,-230,.02,-222,-.12,-215,-.2,-208,-.3,-200,-.38,-195,-.25,-190,-.45,-185,-.3,-180,-.57,-175,-.42,-170,-.2,-165,-.35,-160,-.28,-155,-.15,-150,-.22,-145,-.05,-140,-.2,-135,-.1,-130,-.25,-125,-.08,-118,-.15,-112,-.2,-105,-.1,-95,0,-85,.05,-78,.15,-70,.3,-62,.42,-55,.55,-48,.7,-42,.78,-35,.68,-28,.6,-22,.5,-15,.4,-8,.3,-2,.2,5,.05,12,-.03,18,-.1,28,-.22,35,-.35,42,-.25,48,-.42,55,-.3,62,-.45,70,-.38,78,-.22,85,-.4,92,-.33,100,-.47,108,-.35,115,-.55,122,-.58,128,-.42,135,-.28,140,-.12,145,0,150,.1,158,.22,165,.32,172,.42,180,.55,188,.68,195,.78,202,.86,210,.9,218,.85,225,.76,232,.65,240,.58,248,.48,255,.38,265,.25,272,.12,282,.02,290,-.1,298,-.2,305,-.28,315,-.3,325,-.4,335,-.45,345,-.51,355,-.38,365,-.3,375,-.2,385,-.1,395,0,405,.1,415,.22,425,.35,435,.48,445,.62,452,.75,458,.82,465,.68,472,.6,478,.55,485,.4,490,.25];
const dcf4 = [-490,.18,-485,.08,-480,0,-475,-.08,-470,-.15,-465,-.22,-460,-.3,-450,-.28,-445,-.33,-438,-.38,-430,-.42,-425,-.35,-418,-.28,-410,-.22,-405,-.32,-398,-.28,-390,-.2,-382,-.25,-375,-.15,-368,-.18,-360,-.1,-350,-.05,-340,0,-330,.05,-322,.1,-315,.03,-310,-.17,-305,.15,-298,.2,-292,.28,-285,.38,-280,.22,-275,.5,-270,.42,-265,.75,-260,.6,-255,.68,-250,.5,-245,.62,-240,.45,-235,.55,-230,.35,-225,.25,-220,.12,-212,0,-205,-.1,-198,-.2,-190,-.3,-180,-.38,-172,-.45,-165,-.5,-158,-.55,-152,-.58,-145,-.5,-138,-.42,-130,-.3,-122,-.18,-115,0,-110,.13,-105,.25,-100,.38,-95,.45,-88,.55,-80,.62,-72,.7,-62,.78,-52,.82,-42,.85,-30,.88,-22,.82,-15,.72,-8,.65,0,.58,8,.48,15,.38,22,.28,30,.2,38,.15,45,.1,55,.05,65,.08,75,.05,85,.12,95,.03,105,0,112,.08,122,.12,130,.18,140,.25,150,.32,160,.38,170,.45,180,.52,190,.58,200,.65,210,.72,220,.8,228,.72,235,.62,240,.5,248,.4,255,.28,262,.15,270,0,278,-.1,285,-.2,292,-.3,300,-.38,310,-.32,318,-.25,328,-.3,338,-.18,348,-.1,358,0,368,.1,378,.22,388,.32,398,.42,408,.5,418,.58,428,.65,438,.72,448,.78,458,.82,468,.75,478,.7,488,.65,495,.6];
const dcfData = [dcf1, dcf2, dcf3, dcf4];

// ---------- commentary ----------
const bodyLines = ["When the time delay(τ) is 0,","no significant correlation. But","when the correlation function","was calculated, there was a","correlation with >0.5"," at τ=-27days.It implies that","the distance of C from B is","5000AU(27days × light speed).","Than these excitation sources","are considered to be the same"];

const minus = (v: number) => String(v).replace("-", "−");
function valueAxis(gridIndex: number, min: number, max: number, ticks: number[], fontSize: number, extra: any = {}) {
  const { axisLabel, axisTick, ...rest } = extra;
  return {
    type: "value", gridIndex, min, max, splitLine: { show: false }, axisLine: { show: false, onZero: false },
    axisTick: { show: true, inside: true, length: 5, lineStyle: { color: "#333" }, customValues: ticks, ...(axisTick || {}) },
    axisLabel: { customValues: ticks, fontFamily: SERIF, fontWeight: "bold", fontSize, color: "#111", margin: 6, formatter: minus, ...(axisLabel || {}) },
    nameTextStyle: { fontFamily: SERIF, fontWeight: "bold", color: "#111" },
    nameLocation: "middle",
    ...rest,
  };
}
const frame = (left: number, top: number, right: number, bottom: number, color = "#555") => ({
  left, top, width: right - left, height: bottom - top, show: true, borderColor: color, borderWidth: 1.5, backgroundColor: "transparent", outerBoundsMode: "none", containLabel: false,
});
const label = (text: string, x: number, y: number, fontSize: number, o: any = {}) => {
  const { rotation, scaleX, weight, family, fill, align, style, italic } = o;
  return { type: "text", x, y, rotation: rotation || 0, scaleX: scaleX || 1, z: 50, silent: true,
    style: { x: 0, y: 0, text, fontSize, fontFamily: family || SERIF, fontWeight: weight || "normal", fontStyle: italic ? "italic" : "normal", fill: fill || "#111", textAlign: align || "center", textVerticalAlign: "middle", ...(style || {}) } };
};

function buildOption() {
  const grid: any[] = [], xAxis: any[] = [], yAxis: any[] = [], series: any[] = [], graphic: any[] = [];

  // spectrum (grid 0)
  grid.push(frame(139, 76, 650, 543));
  xAxis.push(valueAxis(0, -3, 4, [-3,-2,-1,0,1,2,3,4], 18, { axisLabel: { margin: 3 }, name: "Vlsr[km/s]", nameGap: 23, nameTextStyle: { fontFamily: SERIF, fontWeight: "bold", fontSize: 18, color: "#111" } }));
  yAxis.push(valueAxis(0, -53, 2303, [0,500,1000,1500,2000], 18, { name: "Flux density[Jy]", nameGap: 46, nameRotate: 90, nameTextStyle: { fontFamily: SERIF, fontWeight: "bold", fontSize: 18, color: "#111" } }));
  [specTrue, specResidual, specA, specB, specC, specD, specE].forEach((d, i) => {
    series.push({ type: "line", name: specNames[i], xAxisIndex: 0, yAxisIndex: 0, data: pairs(d), smooth: 0.3, showSymbol: false, symbol: "none",
      lineStyle: { color: specColors[i], width: i < 2 ? 1.5 : 3 }, itemStyle: { color: specColors[i] } });
  });

  // light curve (grid 1, axes 1 + right axis)
  grid.push(frame(970, 78, 1762, 566));
  xAxis.push(valueAxis(1, 56163, 58831, [56500,57000,57500,58000,58500], 17.5, { name: "MJD", nameGap: 20, nameTextStyle: { fontFamily: SERIF, fontSize: 21, color: "#111" }, axisLabel: { margin: 1, formatter: (v: number) => String(v) } }));
  const yLeft = yAxis.length;
  yAxis.push(valueAxis(1, 0, 157.5, [0,20,40,60,80,100,120,140], 17.5, {
    name: "{i|S}{s|ν comp C}[Jy]", nameGap: 36, nameRotate: 90,
    nameTextStyle: { fontFamily: SERIF, fontSize: 21, color: "#111", rich: { i: { fontFamily: SERIF, fontStyle: "italic", fontSize: 22, color: "#111" }, s: { fontFamily: SERIF, fontSize: 14, color: "#111" } } } }));
  const yRight = yAxis.length;
  yAxis.push(valueAxis(1, 0, 2467, [0,500,1000,1500,2000], 17.5, {
    position: "right", name: "{i|S}{s|ν comp D}[Jy]", nameGap: 44, nameRotate: 90,
    nameTextStyle: { fontFamily: SERIF, fontSize: 21, color: "#111", rich: { i: { fontFamily: SERIF, fontStyle: "italic", fontSize: 22, color: "#111" }, s: { fontFamily: SERIF, fontSize: 14, color: "#111" } } } }));
  const errorSeries = (name: string, d: number[], yi: number, color: string, err: number) => ({
    type: "custom", name, xAxisIndex: 1, yAxisIndex: yi, data: pairs(d), itemStyle: { color }, encode: { x: 0, y: 1 }, clip: true,
    renderItem: (_: any, api: any) => {
      const x = api.value(0), y = api.value(1);
      const a = api.coord([x, y - err]), b = api.coord([x, y + err]), c = api.coord([x, y]);
      return { type: "group", children: [
        { type: "line", shape: { x1: a[0], y1: a[1], x2: b[0], y2: b[1] }, style: { stroke: color, lineWidth: 1.2, opacity: 0.6 } },
        { type: "ellipse", shape: { cx: c[0], cy: c[1], rx: 3, ry: 3.8 }, style: { fill: color } },
      ] };
    },
  });
  series.push(errorSeries("comp C", curveC.concat(curveCExtra), yLeft, "#FF00FF", 4));
  series.push(errorSeries("comp D", curveD.concat(curveDExtra), yRight, "#32CD32", 80));

  // dynamic spectrum
  const gh = grid.length;
  grid.push(frame(2112, -100, 2476, 586.5, "#444"));
  xAxis.push(valueAxis(gh, -3, 4, [-3,-2,-1,0,1,2,3,4], 16, { axisLabel: { margin: 2 }, name: "Vlsr[km/s]", nameGap: 21, nameTextStyle: { fontFamily: SERIF, fontWeight: "bold", fontSize: 22, color: "#111" } }));
  const yh = yAxis.length;
  yAxis.push(valueAxis(gh, 56171, 57951, [56500,57000,57500], 16, { axisLabel: { formatter: (v: number) => String(v) } }));
  const cells: number[][] = [];
  heatRows.forEach(([lo, hi, lvl]) => {
    cells.push([-3, 4, lo, hi, heatBackground]);
    heatSideV.forEach((v, i) => cells.push([v - 0.025, v + 0.025, lo, hi, heatSide[i]]));
    heatMainV.forEach((v, i) => cells.push([v - 0.025, v + 0.025, lo, hi, heatLevels[lvl][i]]));
  });
  const heatIndex = series.length;
  series.push({ type: "custom", name: "Flux density", xAxisIndex: gh, yAxisIndex: yh, data: cells, dimensions: ["v0","v1","lo","hi","flux"], encode: { x: [0,1], y: [2,3] }, clip: true,
    renderItem: (_: any, api: any) => {
      const a = api.coord([api.value(0), api.value(3)]), b = api.coord([api.value(1), api.value(2)]);
      return { type: "rect", shape: { x: a[0], y: a[1], width: b[0] - a[0] + 0.4, height: b[1] - a[1] + 0.8 }, style: { fill: api.visual("color") } };
    } });

  // colour bar axis
  const gc = grid.length;
  grid.push(frame(2498, -413.5, 2550, 586.5, "#666"));
  xAxis.push({ type: "value", gridIndex: gc, min: 0, max: 1, show: false });
  yAxis.push(valueAxis(gc, 48, 2250, [250,500,750,1000,1250], 16, { position: "right", axisLabel: { margin: 5 }, z: 20 }));

  // deviation scatter panels
  const colX = [[41.3,295.6],[335.8,589.5],[630.3,884]];
  const rowY = [[692.9,926.7],[949.2,1182.7],[1205,1438.3]];
  scatterData.forEach((d, i) => {
    const col = i % 3, row = Math.floor(i / 3);
    grid.push(frame(colX[col][0], rowY[row][0], colX[col][1], rowY[row][1], "#444"));
    const g = grid.length - 1;
    xAxis.push(valueAxis(g, -100, 100, [-50,0,50], 13, { axisLabel: { margin: 2 } }));
    yAxis.push(valueAxis(g, -880, 880, [-440,0,440], 13, { axisLabel: { margin: 5 } }));
    series.push({ type: "scatter", name: scatterTitles[i], xAxisIndex: xAxis.length - 1, yAxisIndex: yAxis.length - 1, data: pairs(d), symbolSize: 5.5, itemStyle: { color: "#000" },
      markLine: { silent: true, symbol: "none", label: { show: false }, lineStyle: { color: "#aaa", width: 1.5, type: "solid" }, data: [{ xAxis: 0 }, { yAxis: 0 }] } });
    graphic.push(label(scatterTitles[i], colX[col][0] + 6.5, rowY[row][0] + 10.5, 14.7, { weight: "bold", align: "left" }));
    if (i >= 2 && i <= 5) graphic.push(label(scatterCors[i], colX[col][0] + (col === 0 ? 5.5 : col === 1 ? 6.5 : 3.5), rowY[row][0] + 35, 32, { align: "left" }));
    else graphic.push(label(scatterCors[i], colX[col][0] + 6.5, rowY[row][0] + 25, 14.7, { weight: "bold", align: "left" }));
  });

  // DCF panels
  const dcfX = [[989.7,1310],[1373.7,1693.5]];
  const dcfY = [[710.7,1029],[1092.7,1410.3]];
  dcfData.forEach((d, i) => {
    const col = i % 2, row = Math.floor(i / 2);
    grid.push(frame(dcfX[col][0], dcfY[row][0], dcfX[col][1], dcfY[row][1]));
    const g = grid.length - 1;
    xAxis.push(valueAxis(g, -500, 500, [-400,-200,0,200,400], 16, { axisLabel: { margin: 2 } }));
    yAxis.push(valueAxis(g, -1, 1, [-1,-.75,-.5,-.25,0,.25,.5,.75,1], 15.5, { axisLabel: { margin: 4, formatter: (v: number) => (v < 0 ? "−" : "") + Math.abs(v).toFixed(2) } }));
    series.push({ type: "line", name: dcfTitles[i], xAxisIndex: xAxis.length - 1, yAxisIndex: yAxis.length - 1, data: pairs(d), symbol: "circle", symbolSize: 9.5, showSymbol: true, showAllSymbol: true, itemStyle: { color: "#000" }, lineStyle: { color: "#000", width: 7 },
      markLine: { silent: true, symbol: "none", label: { show: false }, lineStyle: { color: "#aaa", width: 1.5, type: "solid" }, data: [{ xAxis: 0 }, { yAxis: 0 }] },
      markArea: { silent: true, z: 10, itemStyle: { color: "rgba(255,0,0,0.6)" }, label: { show: false }, data: [[{ xAxis: dcfBands[i][0] }, { xAxis: dcfBands[i][1] }]] } });
    graphic.push(label(dcfTitles[i], dcfX[col][0] + 29, dcfY[row][0] + 26.5, 16.5, { align: "left" }));
  });

  // free text
  graphic.push(label("58130   G9.621+01", 394, 63, 22.7, { weight: "bold" }));
  graphic.push(label("Light curve  G9.621+01", 1365, 64, 24.4, { weight: "bold" }));
  graphic.push(label("MJD", 2048, 76.7, 22, { weight: "bold", rotation: Math.PI / 2 }));
  graphic.push(label("Flux denity [Jy]", 2598, 80, 22, { weight: "bold", rotation: Math.PI / 2 }));
  graphic.push(label("Discrete Correlation Function", 1348, 657, 48.2));
  graphic.push(label("DCF", 904, 1079, 30, { rotation: Math.PI / 2 }));
  graphic.push(label("τ", 1340, 1490, 36, { weight: "bold", italic: true }));
  graphic.push(label("deviation (compD) [Jy]", 4, 1060, 25, { weight: "bold", rotation: Math.PI / 2 }));
  graphic.push(label("deviation (compC) [Jy]", 448, 1493, 27, { weight: "bold" }));
  const big = { weight: "bold", family: "Roboto" };
  graphic.push(label("D", 497, 195, 82, { ...big, fill: "#92D050", scaleX: 1.02 }));
  graphic.push(label("C", 385, 480, 82, { ...big, fill: "#FF00FF", scaleX: 1.02 }));
  graphic.push(label("C", 233, 634, 107, { ...big, fill: "#FF00FF", scaleX: 1.02 }));
  graphic.push(label("—", 451.5, 628, 73, { weight: "bold", family: "'Liberation Sans'", fill: "#000" }));
  graphic.push(label("D", 648, 634, 107, { ...big, fill: "#92D050", scaleX: 1.02 }));
  bodyLines.forEach((t, i) => {
    const x = i === 0 ? 1807 : 1744;
    graphic.push(label(t, x, 705.5 + 83.1 * i, 63.5, { align: "left", family: "Lato", fill: "#111" }));
  });

  const legendBox = { backgroundColor: "#fff", borderColor: "#e6e6e6", borderWidth: 1, borderRadius: 4 };
  return {
    animation: false,
    backgroundColor: "#ffffff",
    grid, xAxis, yAxis, series, graphic,
    legend: [
      { ...legendBox, orient: "vertical", left: 660, top: 76, padding: [6, 8, 9, 6], data: specNames, icon: "rect", itemWidth: 40, itemHeight: 3, itemGap: 8.5, selectedMode: false,
        textStyle: { fontFamily: SERIF, fontWeight: "bold", fontSize: 18, color: "#111", padding: [0, 0, 0, 9] } },
      { ...legendBox, left: 1604, top: 87, padding: [10, 12, 10, 24], data: [{ name: "comp C", icon: "circle", itemStyle: { color: "#FF00FF" } }], itemWidth: 9, itemHeight: 9, selectedMode: false,
        textStyle: { fontFamily: SERIF, fontSize: 21, color: "#111", padding: [0, 0, 0, 28] } },
      { ...legendBox, left: 1604, top: 127, padding: [10, 12, 10, 24], data: [{ name: "comp D", icon: "circle", itemStyle: { color: "#32CD32" } }], itemWidth: 9, itemHeight: 9, selectedMode: false,
        textStyle: { fontFamily: SERIF, fontSize: 21, color: "#111", padding: [0, 0, 0, 28] } },
    ],
    visualMap: {
      type: "continuous", seriesIndex: heatIndex, dimension: 4, min: 48, max: 2250, left: 2498, top: -413.5, padding: 0, itemWidth: 52, itemHeight: 1000, calculable: false, hoverLink: false, text: null,
      inRange: { color: ["#000080","#0000f1","#004cff","#00b3ff","#29ffce","#7dff7a","#ceff29","#ffc400","#ff6800","#e80000","#800000"] },
    },
  };
}

export default function App() {
  const ref = useRef<HTMLDivElement>(null);
  useEffect(() => {
    const chart = echarts.init(ref.current!, undefined, { renderer: "svg" });
    chart.setOption(buildOption() as any);
    return () => chart.dispose();
  }, []);
  return <div ref={ref} style={{ position: "fixed", left: 0, top: 0, width: 2602, height: 1485, background: "#fff", fontVariantLigatures: "none" }} />;
}
